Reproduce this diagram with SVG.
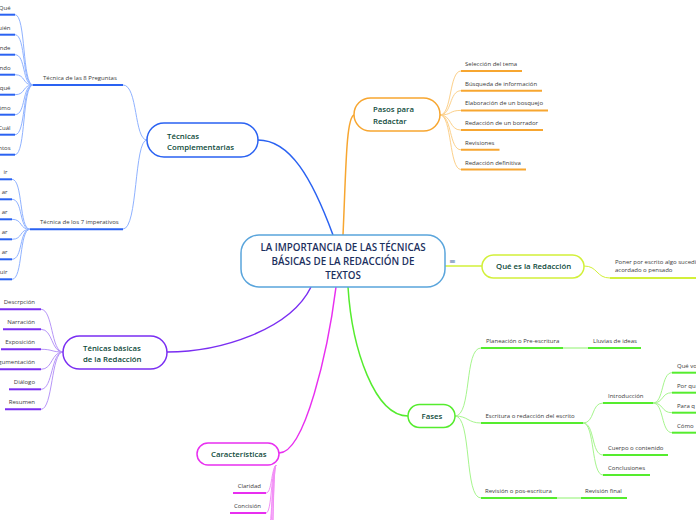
<svg xmlns="http://www.w3.org/2000/svg" width="696" height="520" viewBox="0 0 696 520">
<style>
text{font-family:"Open Sans","Noto Sans","DejaVu Sans",sans-serif}
.tc{font-size:6px;fill:#3a3a3a}
.tn{font-size:7.8px;fill:#0e4a3a;font-weight:600}
.tm{font-size:9.8px;fill:#1c2f5e;text-anchor:middle;font-weight:600}
.e{text-anchor:end}
.box{fill:#fff;stroke-width:1.5}
.ul{stroke-width:2;fill:none}
.blue{stroke:#2a62f2}.blueL{stroke:#8fb2ff}
.or{stroke:#f7a630}.orL{stroke:#fcd08a}
.yg{stroke:#d2f03a}
.gr{stroke:#55ec2e}.grL{stroke:#a6f58d}.grX{stroke:#c6f9b6}
.pu{stroke:#7a2ef2}.puL{stroke:#b796f8}
.ma{stroke:#e82ff0}.maL{stroke:#f28ef6}
.main{stroke-width:1.5;fill:none}
.fan{stroke-width:1;fill:none}
</style>
<rect width="696" height="520" fill="#fff"/>
<g id="connectors">
<path class="main blue" d="M333,235 C312,178 290,140 258,140"/>
<path class="main or" d="M343,235 C346,170 346,118 354,115"/>
<path class="main yg" d="M445,266 L482,266"/>
<path class="main gr" d="M348,287 C352,350 375,416 408,416"/>
<path class="main pu" d="M311,287 C290,330 220,352 167,352"/>
<path class="main ma" d="M336,287 C328,350 305,453 279,453"/>
<path class="fan blueL" d="M147,140 C134,140 138,85 123,85"/>
<path class="fan blueL" d="M147,140 C134,140 138,229 123,229"/>
<path class="fan blueL" d="M33,85 C22,85 26,14.7 15,14.7"/>
<path class="fan blueL" d="M33,85 C22,85 26,34.7 15,34.7"/>
<path class="fan blueL" d="M33,85 C22,85 26,54.7 15,54.7"/>
<path class="fan blueL" d="M33,85 C22,85 26,74.7 15,74.7"/>
<path class="fan blueL" d="M33,85 C22,85 26,94.7 15,94.7"/>
<path class="fan blueL" d="M33,85 C22,85 26,114.7 15,114.7"/>
<path class="fan blueL" d="M33,85 C22,85 26,134.7 15,134.7"/>
<path class="fan blueL" d="M33,85 C22,85 26,154.7 15,154.7"/>
<path class="fan blueL" d="M30,229.3 C19,229.3 23,179.3 12,179.3"/>
<path class="fan blueL" d="M30,229.3 C19,229.3 23,199.3 12,199.3"/>
<path class="fan blueL" d="M30,229.3 C19,229.3 23,219.3 12,219.3"/>
<path class="fan blueL" d="M30,229.3 C19,229.3 23,239.3 12,239.3"/>
<path class="fan blueL" d="M30,229.3 C19,229.3 23,259.3 12,259.3"/>
<path class="fan blueL" d="M30,229.3 C19,229.3 23,279.3 12,279.3"/>
<path class="fan orL" d="M440,115 C452,115 449,71 461,71"/>
<path class="fan orL" d="M440,115 C452,115 449,90.7 461,90.7"/>
<path class="fan orL" d="M440,115 C452,115 449,110.4 461,110.4"/>
<path class="fan orL" d="M440,115 C452,115 449,130.1 461,130.1"/>
<path class="fan orL" d="M440,115 C452,115 449,149.8 461,149.8"/>
<path class="fan orL" d="M440,115 C452,115 449,169.5 461,169.5"/>
<path class="fan yg" d="M584,266 C598,266 596,278 610,278"/>
<path class="fan grL" d="M455,416 C472,416 464,348 481,348"/>
<path class="fan grL" d="M455,416 C468,416 468,423 481,423"/>
<path class="fan grL" d="M455,416 C472,416 464,498 481,498"/>
<path class="ul grX" d="M563,348 L588,348"/>
<path class="ul grX" d="M557,498 L581,498"/>
<path class="fan grL" d="M583,423 C595,423 591,403 603,403"/>
<path class="fan grL" d="M583,423 C595,423 591,455 603,455"/>
<path class="fan grL" d="M583,423 C595,423 591,475 603,475"/>
<path class="fan grL" d="M653,403 C664,403 661,372.7 672,372.7"/>
<path class="fan grL" d="M653,403 C664,403 661,392.7 672,392.7"/>
<path class="fan grL" d="M653,403 C664,403 661,412.7 672,412.7"/>
<path class="fan grL" d="M653,403 C664,403 661,432.7 672,432.7"/>
<path class="fan puL" d="M63,352 C51,352 53,309.3 41,309.3"/>
<path class="fan puL" d="M63,352 C51,352 53,329.3 41,329.3"/>
<path class="fan puL" d="M63,352 C51,352 53,349.3 41,349.3"/>
<path class="fan puL" d="M63,352 C51,352 53,369.3 41,369.3"/>
<path class="fan puL" d="M63,352 C51,352 53,389.3 41,389.3"/>
<path class="fan puL" d="M63,352 C51,352 53,409.3 41,409.3"/>
<path class="fan maL" d="M276,465 C271,470 272,493 266,493"/>
<path class="fan maL" d="M276,465 C271,470 272,513 266,513"/>
<path class="fan maL" d="M276,465 C271,472 273,533 267,533"/>
<path class="fan maL" d="M276,465 C271,472 273,553 267,553"/>
<path class="fan maL" d="M276,465 C272,472 274,573 268,573"/>
<path class="fan maL" d="M276,465 C272,472 274,593 268,593"/>
</g>

<g id="n-central">
<rect class="box" x="241" y="235" width="204" height="52" rx="18" stroke="#5aa5dc"/>
<text class="tm" x="343" y="250.5">LA IMPORTANCIA DE LAS TÉCNICAS</text>
<text class="tm" x="343" y="264.5">BÁSICAS DE LA REDACCIÓN DE</text>
<text class="tm" x="343" y="278.5">TEXTOS</text>
<text x="449" y="264" style="font-size:8px;fill:#4a6fa5">≡</text>
</g>

<g id="n-tecnicas-complementarias">
<rect class="box blue" x="147" y="123" width="111" height="34" rx="17"/>
<text class="tn" x="167" y="138.5">Técnicas</text>
<text class="tn" x="167" y="149.5">Complementarias</text>
</g>
<g id="n-8-preguntas">
<path class="ul blue" d="M33,85 L123,85"/>
<text class="tc" x="43" y="80">Técnica de las 8 Preguntas</text>
</g>
<g id="n-q1"><path class="ul blue" d="M-5,14.7 L15,14.7"/><text class="tc e" x="10.5" y="9.7">Qué</text></g>
<g id="n-q2"><path class="ul blue" d="M-5,34.7 L15,34.7"/><text class="tc e" x="10.5" y="29.7">uién</text></g>
<g id="n-q3"><path class="ul blue" d="M-5,54.7 L15,54.7"/><text class="tc e" x="10.5" y="49.7">nde</text></g>
<g id="n-q4"><path class="ul blue" d="M-5,74.7 L15,74.7"/><text class="tc e" x="10.5" y="69.7">ndo</text></g>
<g id="n-q5"><path class="ul blue" d="M-5,94.7 L15,94.7"/><text class="tc e" x="10.5" y="89.7">qué</text></g>
<g id="n-q6"><path class="ul blue" d="M-5,114.7 L15,114.7"/><text class="tc e" x="10.5" y="109.7">ómo</text></g>
<g id="n-q7"><path class="ul blue" d="M-5,134.7 L15,134.7"/><text class="tc e" x="10.5" y="129.7">Cuál</text></g>
<g id="n-q8"><path class="ul blue" d="M-5,154.7 L15,154.7"/><text class="tc e" x="10.5" y="149.7">ntos</text></g>

<g id="n-7-imperativos">
<path class="ul blue" d="M30,229.3 L123,229.3"/>
<text class="tc" x="40" y="224">Técnica de los 7 imperativos</text>
</g>
<g id="n-i1"><path class="ul blue" d="M-5,179.3 L12,179.3"/><text class="tc e" x="7.5" y="174.3">ir</text></g>
<g id="n-i2"><path class="ul blue" d="M-5,199.3 L12,199.3"/><text class="tc e" x="7.5" y="194.3">ar</text></g>
<g id="n-i3"><path class="ul blue" d="M-5,219.3 L12,219.3"/><text class="tc e" x="7.5" y="214.3">ar</text></g>
<g id="n-i4"><path class="ul blue" d="M-5,239.3 L12,239.3"/><text class="tc e" x="7.5" y="234.3">ar</text></g>
<g id="n-i5"><path class="ul blue" d="M-5,259.3 L12,259.3"/><text class="tc e" x="7.5" y="254.3">ar</text></g>
<g id="n-i6"><path class="ul blue" d="M-5,279.3 L12,279.3"/><text class="tc e" x="7.5" y="274.3">uir</text></g>

<g id="n-pasos">
<rect class="box or" x="354" y="98" width="86" height="33" rx="16.5"/>
<text class="tn" x="373" y="112">Pasos para</text>
<text class="tn" x="373" y="123.5">Redactar</text>
</g>
<g id="n-p1"><path class="ul or" d="M461,71 L522,71"/><text class="tc" x="465" y="66">Selección del tema</text></g>
<g id="n-p2"><path class="ul or" d="M461,90.7 L542,90.7"/><text class="tc" x="465" y="85.7">Búsqueda de información</text></g>
<g id="n-p3"><path class="ul or" d="M461,110.4 L548,110.4"/><text class="tc" x="465" y="105.4">Elaboración de un bosquejo</text></g>
<g id="n-p4"><path class="ul or" d="M461,130.1 L543,130.1"/><text class="tc" x="465" y="125.1">Redacción de un borrador</text></g>
<g id="n-p5"><path class="ul or" d="M461,149.8 L499.5,149.8"/><text class="tc" x="465" y="144.8">Revisiones</text></g>
<g id="n-p6"><path class="ul or" d="M461,169.5 L526,169.5"/><text class="tc" x="465" y="164.5">Redacción definitiva</text></g>

<g id="n-que-es">
<rect class="box yg" x="482" y="255" width="102" height="23" rx="11.5"/>
<text class="tn" x="496" y="269">Qué es la Redacción</text>
</g>
<g id="n-que-es-def">
<path class="ul yg" d="M610,278 L700,278"/>
<text class="tc" x="615" y="263.5">Poner por escrito algo sucedi</text>
<text class="tc" x="615" y="272">acordado o pensado</text>
</g>

<g id="n-fases">
<rect class="box gr" x="408" y="404.5" width="47" height="23" rx="11.5"/>
<text class="tn" x="421.5" y="419">Fases</text>
</g>
<g id="n-planeacion"><path class="ul gr" d="M481,348 L563,348"/><text class="tc" x="486" y="343">Planeación o Pre-escritura</text></g>
<g id="n-lluvias"><path class="ul gr" d="M588,348 L641,348"/><text class="tc" x="593" y="343">Lluvias de ideas</text></g>
<g id="n-escritura"><path class="ul gr" d="M481,423 L583,423"/><text class="tc" x="485.5" y="418">Escritura o redacción del escrito</text></g>
<g id="n-introduccion"><path class="ul gr" d="M603,403 L653,403"/><text class="tc" x="608" y="398">Introducción</text></g>
<g id="n-intro1"><path class="ul gr" d="M672,372.7 L700,372.7"/><text class="tc" x="677" y="367.7">Qué vo</text></g>
<g id="n-intro2"><path class="ul gr" d="M672,392.7 L700,392.7"/><text class="tc" x="677" y="387.7">Por qu</text></g>
<g id="n-intro3"><path class="ul gr" d="M672,412.7 L700,412.7"/><text class="tc" x="677" y="407.7">Para q</text></g>
<g id="n-intro4"><path class="ul gr" d="M672,432.7 L700,432.7"/><text class="tc" x="677" y="427.7">Cómo</text></g>
<g id="n-cuerpo"><path class="ul gr" d="M603,455 L668,455"/><text class="tc" x="608" y="450">Cuerpo o contenido</text></g>
<g id="n-conclusiones"><path class="ul gr" d="M603,475 L650,475"/><text class="tc" x="608" y="470">Conclusiones</text></g>
<g id="n-revision"><path class="ul gr" d="M481,498 L557,498"/><text class="tc" x="485" y="493">Revisión o pos-escritura</text></g>
<g id="n-revision-final"><path class="ul gr" d="M581,498 L627,498"/><text class="tc" x="585" y="493">Revisión final</text></g>

<g id="n-basicas">
<rect class="box pu" x="63" y="336" width="104" height="33" rx="16.5"/>
<text class="tn" x="83" y="350.7">Ténicas básicas</text>
<text class="tn" x="83" y="361.5">de la Redacción</text>
</g>
<g id="n-b1"><path class="ul pu" d="M-2,309.3 L41,309.3"/><text class="tc e" x="35" y="304.3">Descrpción</text></g>
<g id="n-b2"><path class="ul pu" d="M3,329.3 L41,329.3"/><text class="tc e" x="35" y="324.3">Narración</text></g>
<g id="n-b3"><path class="ul pu" d="M1,349.3 L41,349.3"/><text class="tc e" x="35" y="344.3">Exposición</text></g>
<g id="n-b4"><path class="ul pu" d="M-5,369.3 L41,369.3"/><text class="tc e" x="35" y="364.3">gumentación</text></g>
<g id="n-b5"><path class="ul pu" d="M9,389.3 L41,389.3"/><text class="tc e" x="35" y="384.3">Diálogo</text></g>
<g id="n-b6"><path class="ul pu" d="M5,409.3 L41,409.3"/><text class="tc e" x="35" y="404.3">Resumen</text></g>

<g id="n-caracteristicas">
<rect class="box ma" x="197" y="443" width="82" height="22" rx="11"/>
<text class="tn" x="211" y="456.5">Características</text>
</g>
<g id="n-c1"><path class="ul ma" d="M233,493 L266,493"/><text class="tc e" x="261" y="488">Claridad</text></g>
<g id="n-c2"><path class="ul ma" d="M230,513 L266,513"/><text class="tc e" x="261" y="508">Concisión</text></g>
</svg>
